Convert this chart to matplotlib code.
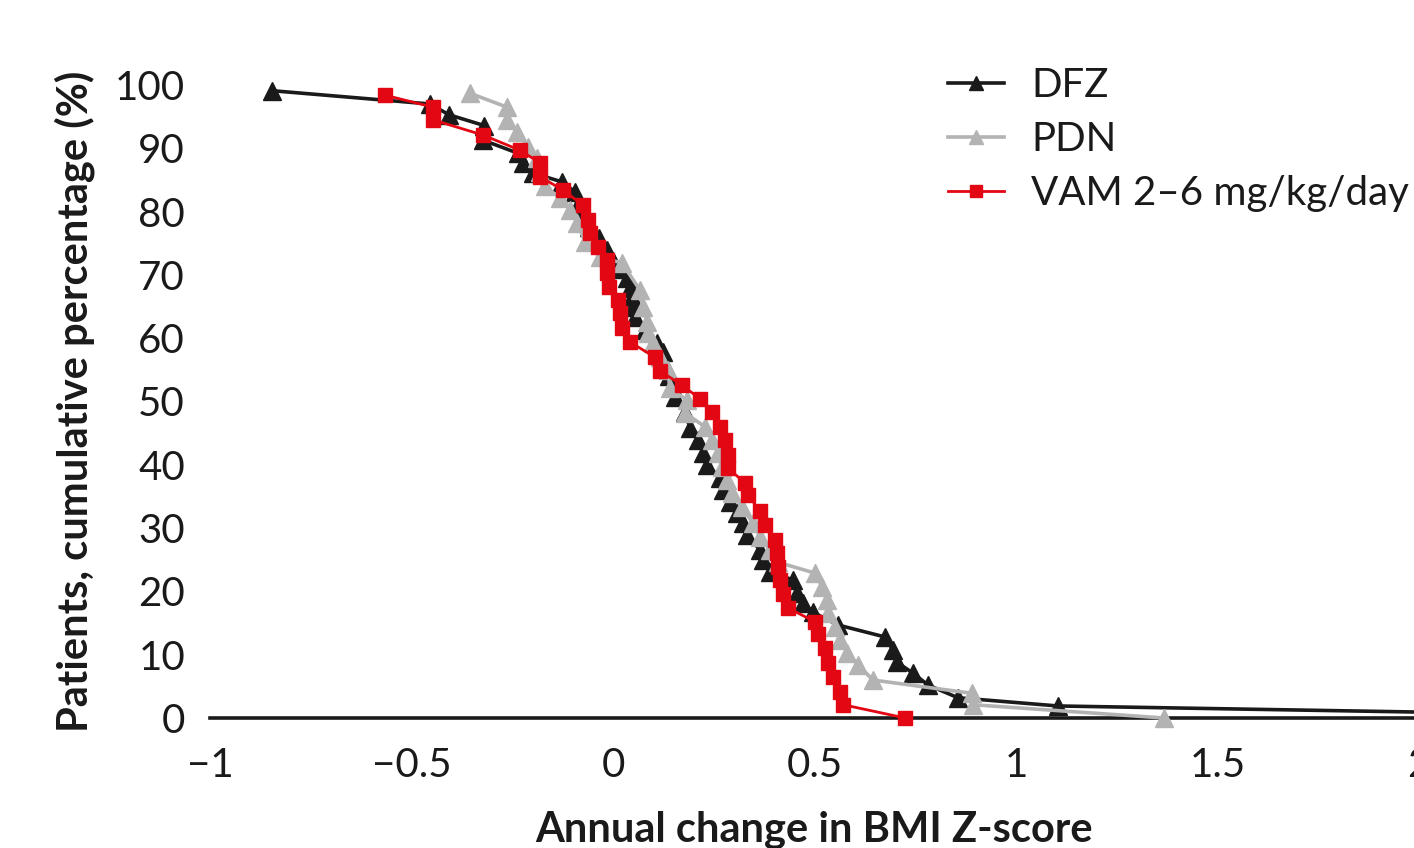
import numpy as np
import matplotlib
matplotlib.use('Agg')
import matplotlib.pyplot as plt

# annual change in BMI Z-score (x) vs cumulative % of patients (y)
dfz_x = [-0.846, -0.454, -0.407, -0.320, -0.323, -0.235, -0.223, -0.199, -0.127, -0.094,
         -0.089, -0.082, -0.060, -0.035, -0.015, 0.000, 0.020, 0.035, 0.042, 0.047,
         0.050, 0.055, 0.079, 0.109, 0.124, 0.130, 0.140, 0.147, 0.154, 0.179,
         0.191, 0.211, 0.223, 0.233, 0.266, 0.273, 0.290, 0.308, 0.323, 0.333,
         0.365, 0.372, 0.390, 0.447, 0.457, 0.471, 0.496, 0.558, 0.675, 0.695,
         0.705, 0.744, 0.782, 0.856, 1.104, 2.870]
dfz_y = [99.1, 97.0, 95.3, 93.6, 91.3, 89.2, 87.7, 86.1, 84.7, 83.1,
         80.8, 78.9, 77.5, 75.8, 74.0, 72.2, 71.0, 69.5, 68.0, 66.5,
         64.9, 63.3, 61.3, 59.2, 57.8, 55.8, 54.0, 52.4, 50.7, 48.3,
         45.8, 43.9, 41.9, 40.0, 37.9, 36.0, 34.1, 32.4, 30.8, 28.9,
         26.5, 25.0, 23.1, 21.8, 19.7, 18.2, 16.7, 14.7, 12.8, 10.7,
         8.8, 7.1, 5.2, 3.2, 1.9, 0.0]

pdn_x = [-0.355, -0.263, -0.263, -0.238, -0.211, -0.189, -0.181, -0.169, -0.131, -0.107,
         -0.089, -0.069, -0.032, 0.022, 0.067, 0.074, 0.084, 0.087, 0.099, 0.117,
         0.136, 0.141, 0.184, 0.179, 0.228, 0.246, 0.261, 0.270, 0.283, 0.295,
         0.320, 0.347, 0.365, 0.390, 0.409, 0.501, 0.519, 0.531, 0.534, 0.551,
         0.563, 0.581, 0.608, 0.645, 0.891, 0.893, 1.367]
pdn_y = [98.7, 96.5, 94.5, 92.6, 90.2, 88.5, 86.3, 84.0, 82.1, 80.3,
         78.2, 75.2, 72.8, 71.9, 67.6, 64.9, 62.6, 60.8, 59.2, 57.0,
         55.0, 52.1, 50.2, 48.2, 46.0, 43.9, 41.9, 39.7, 37.6, 35.5,
         33.3, 30.8, 28.6, 26.5, 24.6, 22.9, 20.7, 18.6, 16.6, 14.4,
         12.3, 10.3, 8.4, 6.0, 3.9, 2.1, 0.0]

vam_x = [-0.566, -0.447, -0.447, -0.323, -0.231, -0.181, -0.181, -0.124, -0.074, -0.062,
         -0.057, -0.037, -0.015, -0.015, -0.010, 0.012, 0.017, 0.022, 0.042, 0.104,
         0.117, 0.171, 0.216, 0.246, 0.266, 0.278, 0.285, 0.285, 0.328, 0.335,
         0.365, 0.377, 0.402, 0.407, 0.409, 0.414, 0.422, 0.434, 0.501, 0.509,
         0.526, 0.533, 0.546, 0.563, 0.571, 0.725]
vam_y = [98.4, 96.5, 94.5, 92.1, 89.7, 87.7, 85.5, 83.4, 81.0, 78.7,
         76.6, 74.4, 72.4, 70.3, 68.1, 66.0, 64.0, 61.6, 59.4, 57.0,
         54.8, 52.6, 50.4, 48.3, 46.0, 43.9, 41.5, 39.5, 37.1, 35.2,
         32.7, 30.5, 28.1, 26.1, 23.9, 21.8, 19.6, 17.4, 15.2, 13.3,
         11.1, 8.7, 6.5, 4.1, 2.1, 0.0]

series = ['DFZ', 'PDN', 'VAM 2\u20136 mg/kg/day']
x_ticks = [-1, -0.5, 0, 0.5, 1, 1.5, 2]
x_tick_labels = ['\u22121', '\u22120.5', '0', '0.5', '1', '1.5', '2']
y_ticks = [0, 10, 20, 30, 40, 50, 60, 70, 80, 90, 100]

plt.rcParams['font.family'] = ['Lato', 'DejaVu Sans']

W, H = 1414, 848
fig = plt.figure(figsize=(W / 100, H / 100), dpi=100)
# axes placed in pixels: x=-1 at 210px, x=2 at 1419px; y=0 at 718px, y=100 at 85px
ax = fig.add_axes([210 / W, (H - 718) / H, 1209 / W, 633 / H])

ax.plot(dfz_x, dfz_y, color='#1a1a1a', lw=2.6, marker='^', ms=12.5, mec='#1a1a1a',
        mfc='#1a1a1a', label=series[0], clip_on=False, zorder=3)
ax.plot(pdn_x, pdn_y, color='#b3b3b3', lw=2.6, marker='^', ms=12.5, mec='#b3b3b3',
        mfc='#b3b3b3', label=series[1], clip_on=False, zorder=4)
ax.plot(vam_x, vam_y, color='#e30613', lw=2.0, marker='s', ms=10.5, mec='#e30613',
        mfc='#e30613', label=series[2], clip_on=False, zorder=5)

ax.set_xlim(-1, 2)
ax.set_ylim(0, 100)
ax.set_xticks(x_ticks)
ax.set_xticklabels(x_tick_labels)
ax.set_yticks(y_ticks)
ax.tick_params(axis='both', length=0, labelsize=29, colors='#1a1a1a')
ax.tick_params(axis='x', pad=21)
ax.tick_params(axis='y', pad=18)

for s in ['top', 'right', 'left']:
    ax.spines[s].set_visible(False)
ax.spines['bottom'].set_linewidth(2.6)
ax.spines['bottom'].set_color('#1a1a1a')
ax.patch.set_alpha(0)

ax.set_xlabel('Annual change in BMI Z-score', fontsize=30, fontweight='bold',
              color='#1a1a1a', labelpad=19)
ax.set_ylabel('Patients, cumulative percentage (%)', fontsize=30, fontweight='bold',
              color='#1a1a1a', labelpad=14)

leg = ax.legend(loc='upper left', bbox_to_anchor=(948 / W, (H - 67) / H),
                bbox_transform=fig.transFigure, frameon=False, fontsize=29,
                handlelength=1.38, handletextpad=0.68, labelspacing=0.42,
                borderpad=0, borderaxespad=0, markerscale=0.85)
for t in leg.get_texts():
    t.set_color('#1a1a1a')

fig.savefig('out.png', dpi=100)
